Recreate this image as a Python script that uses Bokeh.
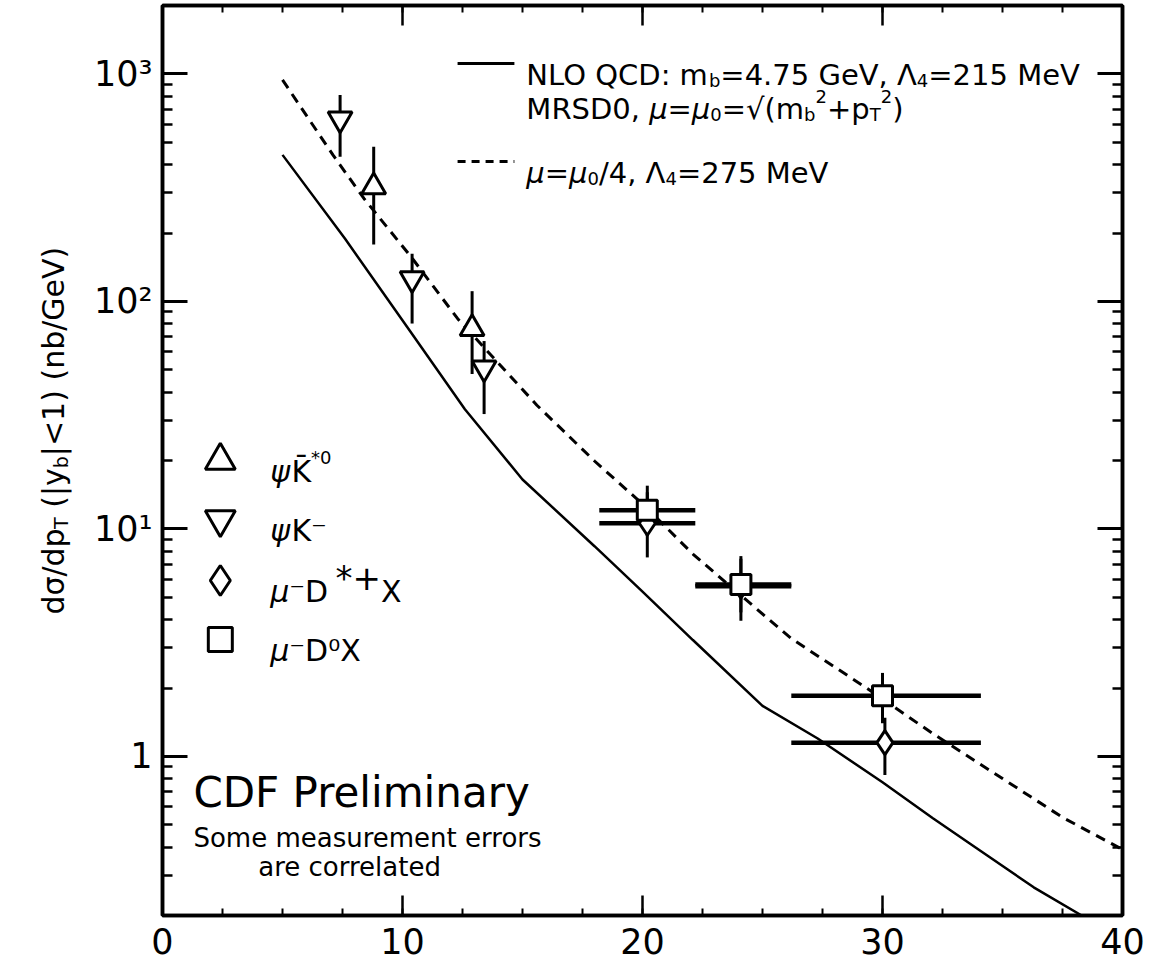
import math
from bokeh.plotting import figure
from bokeh.layouts import row
from bokeh.models import (Label, LinearAxis, LogAxis, SingleIntervalTicker, LogTicker,
                          Range1d, CustomJSTickFormatter)
from bokeh.embed import file_html
from bokeh.resources import INLINE

# ---------------- data ----------------
nlo_pt = [5.0, 7.6, 10.4, 12.6, 15.0, 18.0, 20.0, 22.1, 25.0, 27.3, 30.0, 32.1, 34.0, 36.3, 38.3]
nlo_xsec = [441, 189, 72, 33.6, 16.5, 8.4, 5.3, 3.25, 1.67, 1.2, 0.77, 0.535, 0.39, 0.266, 0.2]

low_pt = [5.0, 7.1, 8.4, 10.4, 12.3, 15.6, 18.0, 20.1, 22.1, 24.2, 26.2, 29.3, 32.1, 35.0, 37.5, 40.0]
low_xsec = [942, 441, 283, 155, 84, 35, 19.9, 12.6, 7.76, 5.0, 3.3, 2.01, 1.26, 0.8, 0.54, 0.39]

psikstar_pt = [8.8, 12.9]
psikstar_xsec = [319, 76]
psikstar_lo = [178, 48]
psikstar_hi = [479, 111]

psik_pt = [7.4, 10.4, 13.4]
psik_xsec = [635, 126, 51]
psik_lo = [433, 80, 32]
psik_hi = [809, 162, 67]

dstar_pt = [20.2, 24.1, 30.1]
dstar_xsec = [10.6, 5.6, 1.15]
dstar_lo = [7.5, 3.95, 0.83]
dstar_hi = [15.5, 7.4, 1.48]
dstar_ptlo = [18.2, 22.2, 26.2]
dstar_pthi = [22.2, 26.2, 34.1]

d0_pt = [20.2, 24.1, 30.0]
d0_xsec = [12.1, 5.7, 1.85]
d0_lo = [9.3, 4.3, 1.40]
d0_hi = [14.5, 7.6, 2.33]
d0_ptlo = [18.2, 22.2, 26.2]
d0_pthi = [22.2, 26.2, 34.1]

x_ticks_major = 10
y_tick_labels = {1: "1", 10: "10¹", 100: "10²", 1000: "10³"}

# ---------------- layout helpers (page pixels -> data, for annotations) ----------------
LABW = 90                      # width of the strip that carries the y-axis title
FX0, FX1 = 167.0, 1130.0
FY0, FY1 = 13.0, 923.0
XMIN, XMAX = 0.0, 40.0
YMIN, YMAX = 0.2, 2000.0
H = 962

def px2x(px):
    return XMIN + (px - FX0) / (FX1 - FX0) * (XMAX - XMIN)

def py2y(py):
    lt, lb = math.log10(YMAX), math.log10(YMIN)
    return 10 ** (lt - (py - FY0) / (FY1 - FY0) * (lt - lb))

FONT = "DejaVu Sans"

p = figure(width=1155 - LABW, height=H, x_range=Range1d(XMIN, XMAX),
           y_range=Range1d(YMIN, YMAX),
           y_axis_type="log", output_backend="svg", toolbar_location=None,
           min_border_left=int(FX0 - 8 - LABW), min_border_right=int(1155 - (FX1 - 8)),
           min_border_top=int(FY0 - 8), min_border_bottom=int(H - (FY1 - 8)),
           background_fill_color="white", border_fill_color="white")
p.xgrid.visible = False
p.ygrid.visible = False
p.outline_line_color = "black"
p.outline_line_width = 3.5

def style_x(ax, labels=True):
    ax.ticker = SingleIntervalTicker(interval=x_ticks_major, num_minor_ticks=4)
    ax.axis_line_width = 3.5
    ax.major_tick_in = 20
    ax.major_tick_out = 0
    ax.minor_tick_in = 7
    ax.minor_tick_out = 0
    ax.major_tick_line_width = 2.5
    ax.minor_tick_line_width = 2
    if labels:
        ax.major_label_text_font = FONT
        ax.major_label_text_font_size = "35px"
        ax.major_label_text_color = "black"
        ax.major_label_standoff = 12
    else:
        ax.formatter = CustomJSTickFormatter(code="return ''")
        ax.major_label_text_font_size = "0px"
        ax.major_label_standoff = 0

def style_y(ax, labels=True):
    ax.ticker = LogTicker(num_minor_ticks=10)
    ax.axis_line_width = 3.5
    ax.major_tick_in = 25
    ax.major_tick_out = 0
    ax.minor_tick_in = 10
    ax.minor_tick_out = 0
    ax.major_tick_line_width = 3
    ax.minor_tick_line_width = 2.5
    if labels:
        m = ",".join(f"{k}:'{v}'" for k, v in y_tick_labels.items())
        ax.formatter = CustomJSTickFormatter(code="const m={" + m + "}; const r=Math.round(tick); return (Math.abs(tick-r)<1e-6 && m[r]!==undefined) ? m[r] : '';")
        ax.major_label_text_font = FONT
        ax.major_label_text_font_size = "35px"
        ax.major_label_text_color = "black"
        ax.major_label_standoff = 10
    else:
        ax.formatter = CustomJSTickFormatter(code="return ''")
        ax.major_label_text_font_size = "0px"
        ax.major_label_standoff = 0

style_x(p.xaxis[0])
style_y(p.yaxis[0])
top = LinearAxis()
style_x(top, labels=False)
p.add_layout(top, "above")
right = LogAxis()
style_y(right, labels=False)
p.add_layout(right, "right")

# ---------------- curves ----------------
p.line(nlo_pt, nlo_xsec, line_color="black", line_width=2.5)
p.line(low_pt, low_xsec, line_color="black", line_width=3, line_dash="10 7")

# ---------------- data points ----------------
for pt, xs, lo, hi in [(psikstar_pt, psikstar_xsec, psikstar_lo, psikstar_hi),
                       (psik_pt, psik_xsec, psik_lo, psik_hi),
                       (dstar_pt, dstar_xsec, dstar_lo, dstar_hi),
                       (d0_pt, d0_xsec, d0_lo, d0_hi)]:
    p.segment(x0=pt, y0=lo, x1=pt, y1=hi, line_color="black", line_width=3)

for xs, a, b in [(dstar_xsec, dstar_ptlo, dstar_pthi), (d0_xsec, d0_ptlo, d0_pthi)]:
    p.segment(x0=a, y0=xs, x1=b, y1=xs, line_color="black", line_width=4.5)

p.scatter(psikstar_pt, psikstar_xsec, marker="triangle", size=24, fill_color="white",
          line_color="black", line_width=3)
p.scatter(psik_pt, psik_xsec, marker="inverted_triangle", size=24, fill_color="white",
          line_color="black", line_width=3)
p.scatter(dstar_pt, dstar_xsec, marker="diamond", size=24, fill_color="white",
          line_color="black", line_width=3)
p.scatter(d0_pt, d0_xsec, marker="square", size=20, fill_color="white",
          line_color="black", line_width=3)

# ---------------- text helpers ----------------
W = {' ': 651, '(': 799, ')': 799, '*': 1024, '+': 1716, ',': 651, '-': 739, '.': 651, '/': 690,
     ':': 690, '<': 1716, '=': 1716, '|': 690, 'A': 1401, 'C': 1430, 'D': 1577, 'F': 1178,
     'G': 1587, 'K': 1343, 'L': 1141, 'M': 1767, 'N': 1532, 'O': 1612, 'P': 1235, 'Q': 1612,
     'R': 1423, 'S': 1300, 'T': 1251, 'V': 1401, 'X': 1403, 'a': 1255, 'b': 1300, 'c': 1126,
     'd': 1300, 'e': 1260, 'g': 1300, 'i': 569, 'l': 569, 'm': 1995, 'n': 1298, 'o': 1253,
     'p': 1300, 'r': 842, 's': 1067, 't': 803, 'u': 1298, 'v': 1212, 'y': 1212,
     'σ': 1262, 'μ': 1300, 'ψ': 1452, 'Λ': 1401, '√': 1307, '⁻': 850, '⁰': 821, '\u0304': 0}
for d in "0123456789":
    W[d] = 1303

def adv(s, size):
    return sum(W.get(c, 1270) for c in s) / 2048.0 * size

def compose(fig, pieces, x, y, angle=0.0):
    a = 0.0
    for piece in pieces:
        text, size, dy = piece[0], piece[1], piece[2]
        st = piece[3] if len(piece) > 3 else "normal"
        body = text.lstrip(" ")
        lead = adv(text[:len(text) - len(body)], size)   # SVG drops leading blanks
        if body.strip():
            if angle == 0:
                xo, yo = a + lead, dy
            else:
                xo, yo = -dy, a + lead
            fig.add_layout(Label(x=x, y=y, x_offset=xo, y_offset=yo, text=body.rstrip(" "),
                                 text_font=FONT, text_font_size=f"{size}px",
                                 text_font_style=st, text_baseline="alphabetic",
                                 text_align="left", angle=angle, text_color="black"))
        a += adv(text, size)

def compose_px(pieces, px, py):
    compose(p, pieces, px2x(px), py2y(py))

# ---------------- y-axis title strip ----------------
lab = figure(width=LABW, height=H, x_range=Range1d(0, LABW), y_range=Range1d(0, H),
             output_backend="svg", toolbar_location=None, min_border=0,
             x_axis_location=None, y_axis_location=None,
             background_fill_color="white", border_fill_color="white")
lab.grid.visible = False
lab.outline_line_color = None
title_pieces = [("dσ/dp", 30, 0), ("T", 19, -7), (" (|y", 30, 0), ("b", 19, -7),
                ("|<1) (nb/GeV)", 30, 0)]
title_len = sum(adv(t[0], t[1]) for t in title_pieces)
title_center_py = (FY0 + FY1) / 2
compose(lab, title_pieces, 61 - 8, H - (title_center_py - 8) - title_len / 2, angle=math.pi / 2)

# ---------------- top-right legend ----------------
p.line([px2x(463), px2x(520)], [py2y(71), py2y(71)], line_color="black", line_width=3)
p.line([px2x(463), px2x(520)], [py2y(169), py2y(169)], line_color="black", line_width=3,
       line_dash="8 6")
S, s = 29, 18
compose_px([("NLO QCD: m", S, 0), ("b", s, -6), ("=4.75 GeV, Λ", S, 0), ("4", s, -6),
            ("=215 MeV", S, 0)], 532, 82)
compose_px([("MRSD0, ", S, 0), ("μ", S, 0, "italic"), ("=", S, 0), ("μ", S, 0, "italic"),
            ("0", s, -6), ("=√(m", S, 0), ("b", s, -6), ("2", s, 12), ("+p", S, 0),
            ("T", s, -6), ("2", s, 12), (")", S, 0)], 532, 116)
compose_px([("μ", S, 0, "italic"), ("=", S, 0), ("μ", S, 0, "italic"), ("0", s, -6),
            ("/4, Λ", S, 0), ("4", s, -6), ("=275 MeV", S, 0)], 532, 180)

# ---------------- left legend ----------------
leg_px = 225
leg_rows = [468, 527, 588, 647]
for marker, py, sz in zip(["triangle", "inverted_triangle", "diamond", "square"], leg_rows,
                          [30, 30, 30, 24]):
    p.scatter([px2x(leg_px)], [py2y(py)], marker=marker, size=sz, fill_color="white",
              line_color="black", line_width=3)
L = 30
compose_px([("ψ", L, 0, "italic"), ("K\u0304", L, 0), ("*0", 18, 14)], 275, leg_rows[0] + 11)
compose_px([("ψ", L, 0, "italic"), ("K⁻", L, 0)], 275, leg_rows[1] + 11)
compose_px([("μ", L, 0, "italic"), ("⁻D", L, 0), (" *+", 34, 14), ("X", L, 0)], 275,
           leg_rows[2] + 11)
compose_px([("μ", L, 0, "italic"), ("⁻D⁰X", L, 0)], 275, leg_rows[3] + 11)

# ---------------- CDF notes ----------------
compose_px([("CDF Preliminary", 42, 0)], 198, 800)
compose_px([("Some measurement errors", 26, 0)], 198, 845)
compose_px([("are correlated", 26, 0)], 263, 874)

layout = row(lab, p, spacing=0)
open("out.html", "w").write(file_html(layout, INLINE))
